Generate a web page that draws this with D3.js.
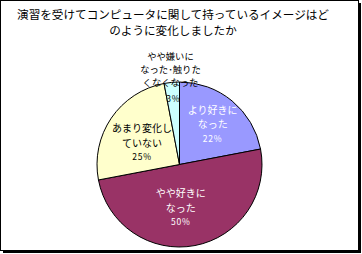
<!DOCTYPE html>
<html>
<head>
<meta charset="utf-8">
<script src="https://cdn.jsdelivr.net/npm/d3@7"></script>
<style>
  body { margin: 0; background: #fff; }
  svg { display: block; }
  text { font-family: "Noto Sans CJK JP", sans-serif; }
</style>
</head>
<body>
<div id="chart"></div>
<script>
// data
const titleLines = ["演習を受けてコンピュータに関して持っているイメージはど", "のように変化しましたか"];
const categories = [["より好きに", "なった"], ["やや好きに", "なった"], ["あまり変化し", "ていない"], ["やや嫌いに", "なった･触りた", "くなくなった"]];
const values = [22, 50, 25, 3];
const colors = ["#9999ff", "#993366", "#ffffcc", "#ccffff"];
const textColors = ["#fff", "#fff", "#000", "#000"];

const width = 362, height = 254;
const cx = 179.5, cy = 164.5, r = 82.5;

const svg = d3.select("#chart").append("svg")
    .attr("width", width)
    .attr("height", height);

// frame with shadow
svg.append("rect")
    .attr("x", 3).attr("y", 3)
    .attr("width", 358).attr("height", 250)
    .attr("fill", "#000");
svg.append("rect")
    .attr("x", 0.5).attr("y", 0.5)
    .attr("width", 358).attr("height", 250)
    .attr("fill", "#fff")
    .attr("stroke", "#000")
    .attr("stroke-width", 1);

// title
svg.selectAll(".title")
    .data(titleLines)
    .enter().append("text")
    .attr("class", "title")
    .attr("x", 173)
    .attr("y", function(d, i) { return 19 + i * 16; })
    .attr("text-anchor", "middle")
    .attr("font-size", "11.6px")
    .text(function(d) { return d; });

const pie = d3.pie().sort(null).value(function(d) { return d; });
const arcs = pie(values);
const arc = d3.arc().innerRadius(0).outerRadius(r);

const g = svg.append("g")
    .attr("transform", "translate(" + cx + "," + cy + ")");

g.selectAll(".slice")
    .data(arcs)
    .enter().append("path")
    .attr("class", "slice")
    .attr("d", arc)
    .attr("fill", function(d, i) { return colors[i]; })
    .attr("stroke", "#000")
    .attr("stroke-width", 1);

// label placement: radius from centre and small shifts per slice
const labelPos = [
    {rad: 52, dx: 0, dy: 0},
    {rad: 44, dx: -7, dy: 0},
    {rad: 44, dx: -1, dy: 3},
    {rad: 96, dx: 0, dy: 0}
];
const pctPos = [null, null, null, {rad: 66, dx: 0, dy: 0}];

arcs.forEach(function(a, i) {
    const mid = (a.startAngle + a.endAngle) / 2;
    const p = labelPos[i];
    const x = Math.sin(mid) * p.rad + p.dx;
    const y = -Math.cos(mid) * p.rad + p.dy;
    const lines = categories[i];
    const pct = values[i] + "%";
    const lh = i === 3 ? 13 : 14.5;
    const n = pctPos[i] ? lines.length : lines.length + 1;
    const top = y - (n - 1) * lh / 2;

    lines.forEach(function(t, j) {
        g.append("text")
            .attr("x", x)
            .attr("y", top + j * lh + 4)
            .attr("text-anchor", "middle")
            .attr("font-size", i === 3 ? "9.3px" : "10px")
            .attr("fill", pctPos[i] ? "#000" : textColors[i])
            .text(t);
    });

    let px = x, py = top + lines.length * lh + 3;
    if (pctPos[i]) {
        const q = pctPos[i];
        px = Math.sin(mid) * q.rad + q.dx;
        py = -Math.cos(mid) * q.rad + q.dy + 3;
    }
    g.append("text")
        .attr("x", px)
        .attr("y", py)
        .attr("text-anchor", "middle")
        .attr("font-size", "8.5px")
        .attr("letter-spacing", "0.8px")
        .attr("fill", textColors[i])
        .text(pct);
});
</script>
</body>
</html>
